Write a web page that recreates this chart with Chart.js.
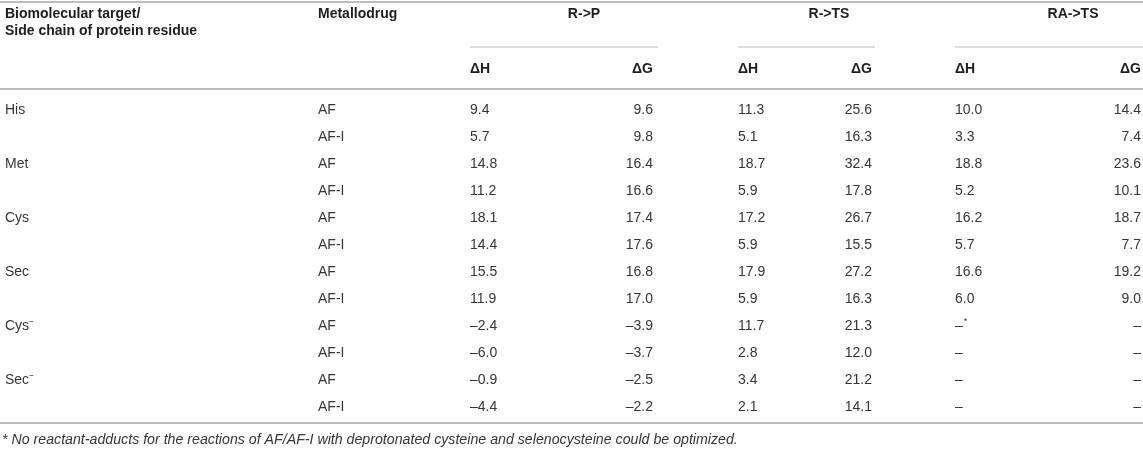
<!DOCTYPE html>
<html><head><meta charset="utf-8">
<script src="https://cdn.jsdelivr.net/npm/chart.js@4"></script>
<style>html,body{margin:0;padding:0;background:#fff}#wrap{width:1143px;height:451px;position:relative}</style>
</head><body><div id="wrap"><canvas id="c"></canvas></div>
<script>
// ---- data ----
const targets = ['His', 'Met', 'Cys', 'Sec', 'Cys\u207B', 'Sec\u207B'];
const drugs = ['AF', 'AF-I'];
const groupLabels = ['R->P', 'R->TS', 'RA->TS'];
const subLabels = ['\u0394H', '\u0394G'];
const rpH   = [9.4, 5.7, 14.8, 11.2, 18.1, 14.4, 15.5, 11.9, -2.4, -6.0, -0.9, -4.4];
const rpG   = [9.6, 9.8, 16.4, 16.6, 17.4, 17.6, 16.8, 17.0, -3.9, -3.7, -2.5, -2.2];
const rtsH  = [11.3, 5.1, 18.7, 5.9, 17.2, 5.9, 17.9, 5.9, 11.7, 2.8, 3.4, 2.1];
const rtsG  = [25.6, 16.3, 32.4, 17.8, 26.7, 15.5, 27.2, 16.3, 21.3, 12.0, 21.2, 14.1];
const ratsH = [10.0, 3.3, 18.8, 5.2, 16.2, 5.7, 16.6, 6.0, null, null, null, null];
const ratsG = [14.4, 7.4, 23.6, 10.1, 18.7, 7.7, 19.2, 9.0, null, null, null, null];
const ratsHMarks = ['', '', '', '', '', '', '', '', '*', '', '', ''];
const headTitle = ['Biomolecular target/', 'Side chain of protein residue'];
const drugTitle = 'Metallodrug';
const footnote = '* No reactant-adducts for the reactions of AF/AF-I with deprotonated cysteine and selenocysteine could be optimized.';

// ---- layout (scale units: x in px-units, y in row-units) ----
const L = {
  xTarget: 5, xDrug: 318,
  cols: [ {x: 470, align: 'left'}, {x: 653, align: 'right'},
          {x: 738, align: 'left'}, {x: 872, align: 'right'},
          {x: 955, align: 'left'}, {x: 1141, align: 'right'} ],
  groupCenters: [584, 829, 1073],
  groupLines: [[470, 658], [738, 875], [955, 1143]],
  yHead1: -3.56, yHead2: -2.93, ySub: -1.52,
  yTopRule: -4.0, yGroupRule: -2.33, ySubRule: -0.78, yBottomRule: 11.6, yFoot: 12.22,
  yMin: -4.074, yMax: 12.63
};

const fmt = (v, m) => v === null ? '\u2013' + (m || '') : v.toFixed(1).replace('-', '\u2013');
const series = [rpH, rpG, rtsH, rtsG, ratsH, ratsG];
const rows = [];
targets.forEach(t => drugs.forEach((d, j) => rows.push({t: j === 0 ? t : '', d})));

const datasets = [];
datasets.push({label: 'target', align: 'left', texts: rows.map(r => r.t),
  data: rows.map((r, i) => ({x: L.xTarget, y: i}))});
datasets.push({label: 'drug', align: 'left', texts: rows.map(r => r.d),
  data: rows.map((r, i) => ({x: L.xDrug, y: i}))});
series.forEach((s, k) => {
  datasets.push({label: 'col' + k, align: L.cols[k].align,
    texts: s.map((v, i) => fmt(v, k === 4 ? ratsHMarks[i] : '')),
    data: s.map((v, i) => ({x: L.cols[k].x, y: i}))});
});
datasets.forEach(d => { d.pointRadius = 0; d.pointHoverRadius = 0; });

const FAM = '"Liberation Sans", Arial, Helvetica, sans-serif';
const BODY = '14px ' + FAM;
const BOLD = 'bold 14px ' + FAM;

const tablePlugin = {
  id: 'table',
  afterDatasetsDraw(chart) {
    const ctx = chart.ctx, xs = chart.scales.x, ys = chart.scales.y;
    const X = v => xs.getPixelForValue(v), Y = v => ys.getPixelForValue(v);
    ctx.save();
    // rules
    ctx.strokeStyle = '#bcbcbc';
    const hline = (y, x0, x1, w) => { ctx.lineWidth = w; ctx.beginPath();
      ctx.moveTo(X(x0), Math.round(Y(y))); ctx.lineTo(X(x1), Math.round(Y(y))); ctx.stroke(); };
    hline(L.yTopRule, 0, 1143, 2);
    hline(L.ySubRule, 0, 1143, 2);
    hline(L.yBottomRule, 0, 1143, 2);
    L.groupLines.forEach(g => hline(L.yGroupRule, g[0], g[1], 1));
    // headers
    ctx.textBaseline = 'middle';
    ctx.fillStyle = '#1e1e1e';
    ctx.font = BOLD;
    ctx.textAlign = 'left';
    ctx.fillText(headTitle[0], X(L.xTarget), Y(L.yHead1));
    ctx.fillText(headTitle[1], X(L.xTarget), Y(L.yHead2));
    ctx.fillText(drugTitle, X(L.xDrug), Y(L.yHead1));
    ctx.textAlign = 'center';
    groupLabels.forEach((g, i) => ctx.fillText(g, X(L.groupCenters[i]), Y(L.yHead1)));
    L.cols.forEach((c, k) => { ctx.textAlign = c.align; ctx.fillText(subLabels[k % 2], X(c.x), Y(L.ySub)); });
    // body cells via dataset elements
    ctx.font = BODY;
    ctx.fillStyle = '#363636';
    chart.data.datasets.forEach((ds, di) => {
      const meta = chart.getDatasetMeta(di);
      ctx.textAlign = ds.align;
      meta.data.forEach((el, i) => {
        const txt = ds.texts[i];
        if (!txt) return;
        if (txt.endsWith('*')) {
          const base = txt.slice(0, -1);
          ctx.fillText(base, el.x, el.y);
          const w = ctx.measureText(base).width;
          ctx.save(); ctx.font = '9px ' + FAM; ctx.textAlign = 'left';
          ctx.fillText('*', el.x + (ds.align === 'left' ? w : 0) + 1, el.y - 4); ctx.restore();
        } else ctx.fillText(txt, el.x, el.y);
      });
    });
    // footnote
    ctx.font = 'italic 14.2px ' + FAM;
    ctx.textAlign = 'left';
    ctx.fillStyle = '#363636';
    ctx.fillText(footnote, X(2), Y(L.yFoot));
    ctx.restore();
  }
};

new Chart(document.getElementById('c'), {
  type: 'scatter',
  data: {datasets},
  options: {
    responsive: true, maintainAspectRatio: false, animation: false,
    layout: {padding: 0},
    plugins: {legend: {display: false}, tooltip: {enabled: false}},
    events: [],
    scales: {
      x: {type: 'linear', min: 0, max: 1143, display: false},
      y: {type: 'linear', min: L.yMin, max: L.yMax, reverse: true, display: false}
    }
  },
  plugins: [tablePlugin]
});
</script></body></html>
